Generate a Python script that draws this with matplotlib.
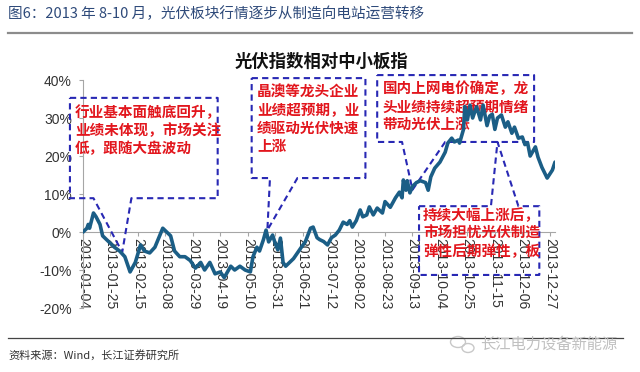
import matplotlib
matplotlib.use("Agg")
import matplotlib.pyplot as plt
import matplotlib.dates as mdates
from matplotlib.lines import Line2D
from matplotlib.patches import Ellipse
import pandas as pd

plt.rcParams['font.family'] = ['Noto Sans CJK SC', 'DejaVu Sans']

# 光伏指数相对中小板指 (%)
dates = ['2013-01-04', '2013-01-07', '2013-01-08', '2013-01-09', '2013-01-12', '2013-01-14',
         '2013-01-17', '2013-01-19', '2013-01-22', '2013-01-25', '2013-01-28', '2013-02-01',
         '2013-02-05', '2013-02-09', '2013-02-13', '2013-02-17', '2013-02-20', '2013-02-24',
         '2013-02-28', '2013-03-06', '2013-03-09', '2013-03-12', '2013-03-15', '2013-03-19',
         '2013-03-23', '2013-03-27', '2013-03-31', '2013-04-04', '2013-04-07', '2013-04-11',
         '2013-04-15', '2013-04-19', '2013-04-22', '2013-04-27', '2013-04-30', '2013-05-04',
         '2013-05-08', '2013-05-12', '2013-05-14', '2013-05-17', '2013-05-19', '2013-05-22',
         '2013-05-24', '2013-05-26', '2013-05-29', '2013-05-31', '2013-06-02', '2013-06-04',
         '2013-06-06', '2013-06-08', '2013-06-11', '2013-06-14', '2013-06-17', '2013-06-20',
         '2013-06-23', '2013-06-27', '2013-06-29', '2013-07-02', '2013-07-04', '2013-07-07',
         '2013-07-10', '2013-07-13', '2013-07-16', '2013-07-19', '2013-07-22', '2013-07-25',
         '2013-07-27', '2013-07-29', '2013-08-01', '2013-08-04', '2013-08-06', '2013-08-09',
         '2013-08-11', '2013-08-14', '2013-08-17', '2013-08-21', '2013-08-23', '2013-08-27',
         '2013-08-31', '2013-09-03', '2013-09-05', '2013-09-06', '2013-09-08', '2013-09-09',
         '2013-09-11', '2013-09-13', '2013-09-16', '2013-09-19', '2013-09-23', '2013-09-25',
         '2013-09-27', '2013-09-30', '2013-10-04', '2013-10-08', '2013-10-10', '2013-10-13',
         '2013-10-15', '2013-10-18', '2013-10-19', '2013-10-22', '2013-10-23', '2013-10-25',
         '2013-10-27', '2013-10-29', '2013-11-01', '2013-11-04', '2013-11-06', '2013-11-09',
         '2013-11-11', '2013-11-13', '2013-11-15', '2013-11-17', '2013-11-20', '2013-11-23',
         '2013-11-25', '2013-11-28', '2013-11-30', '2013-12-03', '2013-12-06', '2013-12-08',
         '2013-12-10', '2013-12-12', '2013-12-16', '2013-12-18', '2013-12-21', '2013-12-25',
         '2013-12-29', '2013-12-31']
rel_pct = [0.0, 1.0, 2.0, 1.0, 5.0, 4.0,
           2.0, -1.0, -2.0, -3.0, -4.0, -5.0,
           -6.5, -10.5, -8.0, -3.4, -5.0, -5.5,
           -4.0, 1.0, 0.0, -1.0, -5.0, -6.5,
           -6.5, -7.5, -9.5, -8.0, -10.0, -8.0,
           -11.0, -10.5, -12.0, -9.0, -10.0, -9.0,
           -10.0, -10.5, -6.5, -4.0, -5.0, -2.0,
           0.5, -2.6, -0.8, -3.0, -4.7, -1.6,
           -8.0, -9.0, -8.0, -7.0, -5.5, -4.0,
           -2.6, 1.0, 1.3, -1.5, -2.0, -2.5,
           -3.4, -1.5, -0.8, 0.5, 2.6, 2.0,
           3.0, 1.3, 3.0, 5.8, 4.0, 4.5,
           6.6, 4.5, 6.3, 5.0, 8.0, 6.5,
           9.0, 10.5, 9.0, 13.7, 11.0, 13.5,
           10.3, 12.0, 13.0, 13.5, 13.0, 11.0,
           14.5, 16.8, 18.4, 21.0, 23.4, 24.7,
           23.7, 24.2, 23.4, 27.0, 33.0, 29.5,
           33.4, 30.0, 33.0, 29.5, 33.4, 28.0,
           30.5, 31.0, 27.0, 30.0, 30.8, 27.6,
           29.0, 26.0, 27.6, 24.7, 25.0, 23.0,
           23.5, 20.0, 22.4, 19.7, 17.0, 14.2,
           16.3, 18.4]

tick_labels = ['2013-01-04', '2013-01-25', '2013-02-15', '2013-03-08', '2013-03-29',
               '2013-04-19', '2013-05-10', '2013-05-31', '2013-06-21', '2013-07-12',
               '2013-08-02', '2013-08-23', '2013-09-13', '2013-10-04', '2013-10-25',
               '2013-11-15', '2013-12-06', '2013-12-27']
y_ticks = [-20, -10, 0, 10, 20, 30, 40]

# callout texts
note1 = ['行业基本面触底回升，', '业绩未体现，市场关注', '低，跟随大盘波动']
note2 = ['晶澳等龙头企业', '业绩超预期，业', '绩驱动光伏快速', '上涨']
note3 = ['国内上网电价确定，龙', '头业绩持续超预期情绪', '带动光伏上涨']
note4 = ['持续大幅上涨后，', '市场担忧光伏制造', '弹性后期弹性，板']

# callout outlines (date, %) and text anchors
outline1 = [('2012-12-25', 35.3), ('2013-04-17', 35.3), ('2013-04-17', 8.9), ('2013-02-10', 8.9),
            ('2013-02-03', -5.3), ('2013-01-12', 8.9), ('2012-12-25', 8.9), ('2012-12-25', 35.3)]
outline2 = [('2013-05-13', 40.5), ('2013-08-08', 40.5), ('2013-08-08', 14.2), ('2013-06-17', 14.2),
            ('2013-05-25', 0.5), ('2013-05-27', 14.2), ('2013-05-13', 14.2), ('2013-05-13', 40.5)]
outline3 = [('2013-08-17', 41.3), ('2013-12-15', 41.3), ('2013-12-15', 23.7), ('2013-10-08', 23.7),
            ('2013-09-13', 11.1), ('2013-09-05', 23.7), ('2013-08-17', 23.7), ('2013-08-17', 41.3)]
outline4 = [('2013-09-18', 6.8), ('2013-11-12', 6.8), ('2013-11-17', 23.7), ('2013-12-03', 6.8),
            ('2013-12-19', 6.8), ('2013-12-19', -11.3), ('2013-09-18', -11.3), ('2013-09-18', 6.8)]

notes = [(note1, outline1, ('2012-12-29', 31.6)),
         (note2, outline2, ('2013-05-17', 36.8)),
         (note3, outline3, ('2013-08-21', 37.8)),
         (note4, outline4, ('2013-09-21', 4.4))]

fig = plt.figure(figsize=(6.4, 3.72), dpi=100)
ax = fig.add_axes([0.1297, 0.172, 0.7375, 0.6129])

ax.plot(pd.to_datetime(dates), rel_pct, color='#1b5e86', lw=2.6, zorder=5,
        solid_joinstyle='round', solid_capstyle='round')

ax.set_xlim(pd.Timestamp('2013-01-04'), pd.Timestamp('2013-12-31'))
ax.set_ylim(-20, 40)
ax.spines['bottom'].set_position(('data', 0))
ax.spines['top'].set_visible(False)
ax.spines['right'].set_visible(False)
ax.spines['left'].set_color('#a6a6a6')
ax.spines['bottom'].set_color('#a6a6a6')

ax.set_yticks(y_ticks)
ax.set_yticklabels([f'{v}%' for v in y_ticks], fontfamily='Liberation Sans',
                   fontsize=10, color='#333333')
ax.set_xticks(pd.to_datetime(tick_labels))
ax.set_xticklabels(tick_labels, rotation=270, fontfamily='Liberation Sans',
                   fontsize=10, color='#333333', va='top', ha='center')
ax.tick_params(axis='y', length=3, color='#a6a6a6', pad=5)
ax.tick_params(axis='x', length=3, color='#a6a6a6', pad=1)

# dashed callouts with red notes
for lines, outline, anchor in notes:
    ox = mdates.date2num(pd.to_datetime([p[0] for p in outline]))
    oy = [p[1] for p in outline]
    ax.plot(ox, oy, ls=(0, (3, 2)), color='#2828b4', lw=1.5, clip_on=False, zorder=3)
    tx = mdates.date2num(pd.Timestamp(anchor[0]))
    for i, line in enumerate(lines):
        ax.text(tx, anchor[1] - i * 4.7, line, color='#e2161d', fontsize=10.5,
                fontweight='bold', ha='left', va='center', zorder=4, clip_on=False)

# header, chart title, footer
fig.text(8 / 640, 1 - 14 / 372, '图6：2013 年 8-10 月，光伏板块行情逐步从制造向电站运营转移',
         fontsize=10.5, color='#2e4a7a', va='center', ha='left')
fig.add_artist(Line2D([8 / 640, 632 / 640], [1 - 33 / 372] * 2, color='#8c8c8c', lw=1.6))
fig.text(321 / 640, 1 - 62 / 372, '光伏指数相对中小板指', fontsize=12.5, fontweight='bold',
         ha='center', va='center', color='#111111')
fig.add_artist(Line2D([8 / 640, 623 / 640], [1 - 338 / 372] * 2, color='#444444', lw=0.9))
fig.text(8 / 640, 1 - 355 / 372, '资料来源：Wind，长江证券研究所', fontsize=8,
         color='#333333', va='center', ha='left')

# watermark
fig.add_artist(Ellipse((458 / 640, 1 - 342 / 372), 15 / 640, 11 / 372, fill=False,
                       ec='#c8c8c8', lw=1.0, transform=fig.transFigure))
fig.add_artist(Ellipse((468 / 640, 1 - 348 / 372), 12 / 640, 9 / 372, fill=False,
                       ec='#c8c8c8', lw=1.0, transform=fig.transFigure))
fig.text(480 / 640, 1 - 344 / 372, '长江电力设备新能源', fontsize=11, color='#c0c0c0',
         va='center', ha='left')

plt.savefig('out.png', dpi=100)
